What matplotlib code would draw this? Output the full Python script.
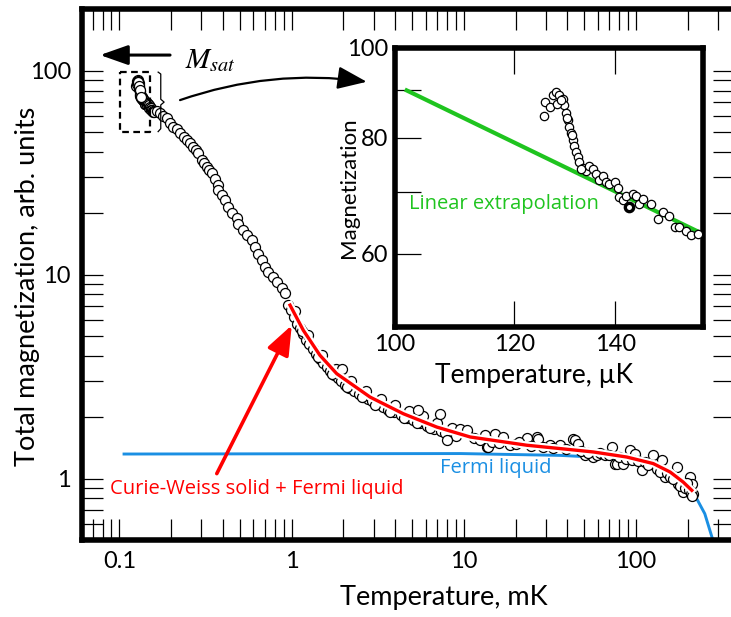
import numpy as np
import matplotlib
matplotlib.use("Agg")
import matplotlib.pyplot as plt
import matplotlib.patheffects as pe
from matplotlib.ticker import NullFormatter, FixedLocator

plt.rcParams['font.family'] = ['Lato', 'DejaVu Sans']
plt.rcParams['mathtext.fontset'] = 'stix'

# --- inset data: temperature in uK, magnetization (arb. units)
t_inset = [125.6, 125.8, 126.6, 127.3, 127.9, 128.5, 129.2, 129.5, 129.9, 130.2,
           130.5, 130.8, 131.2, 131.5, 131.9, 132.2, 132.5, 133.2, 133.9, 134.5,
           135.2, 135.9, 136.6, 137.3, 138.0, 138.7, 139.8, 140.5, 140.8, 141.6,
           142.3, 143.8, 144.4, 145.2, 146.0, 147.8, 149.3, 150.5, 152.0, 153.2,
           154.3, 156.0, 157.2, 158.8, 128.0, 128.8, 130.0, 131.0, 132.8]
m_inset = [84.5, 87.4, 86.3, 88.9, 89.6, 88.9, 88.0, 86.7, 85.0, 83.6,
           82.2, 81.0, 79.6, 78.3, 77.2, 76.2, 75.3, 74.3, 73.7, 74.6,
           74.0, 73.1, 72.0, 72.8, 71.7, 71.4, 71.7, 70.6, 69.0, 68.5,
           69.3, 69.6, 69.3, 67.9, 68.7, 67.9, 65.4, 66.5, 65.9, 64.1,
           64.1, 63.5, 62.9, 63.0, 87.0, 87.8, 84.0, 80.5, 74.0]
t_ring, m_ring = 142.9, 67.3

# green linear extrapolation (uK)
t_lin = [101.8, 158.4]
m_lin = [90.0, 63.5]

# --- main data above the inset range, temperature in mK
t_main = [0.165, 0.172, 0.180, 0.189, 0.197, 0.206, 0.215, 0.225, 0.236, 0.246,
          0.257, 0.269, 0.278, 0.288, 0.301, 0.311, 0.322, 0.333, 0.344, 0.360,
          0.376, 0.376, 0.393, 0.411, 0.430, 0.449, 0.481, 0.491, 0.525, 0.549,
          0.587, 0.614, 0.642, 0.671, 0.702, 0.733, 0.784, 0.821, 0.877, 0.917,
          0.95, 0.99, 1.03, 1.08, 1.12, 1.17, 1.22, 1.27, 1.33, 1.39,
          1.46, 1.53, 1.60, 1.68, 1.76, 1.85, 1.95, 2.05, 2.17, 2.30,
          2.45, 2.60, 2.78, 2.95, 3.15, 3.40, 3.65, 3.95, 4.30, 4.70,
          5.10, 5.60, 6.10, 6.70, 7.40, 8.20, 9.00,
          1.05, 1.25, 1.50, 1.80, 1.96, 2.20, 2.70, 3.30, 4.00, 4.80, 5.80, 7.00, 8.50,
          1.15, 1.42, 1.72, 2.10, 2.55, 3.05, 3.75, 4.50, 5.35, 6.40, 7.80,
          5.45, 7.29, 7.97, 9.52, 10.4, 10.4, 13.3, 13.6, 13.9, 15.2,
          17.0, 18.6, 23.2, 26.5, 27.1, 31.7, 36.2, 43.3, 44.3, 46.3,
          50.6, 56.6, 59.2, 72.4, 75.6, 77.3, 84.5, 92.4, 98.8, 108,
          126, 141, 148, 173, 176, 188, 206, 211, 215,
          11.5, 12.5, 14.5, 16.0, 20.0, 21.0, 24.5, 29.0, 33.0, 39.0,
          48.0, 53.0, 62.0, 66.0, 70.0, 80.0, 88.0, 95.0, 103, 113,
          118, 133, 138, 152, 158, 165, 180, 193, 198, 203, 208, 212]
m_main = [63.5, 61.8, 60.0, 58.6, 55.5, 53.1, 51.8, 49.3, 47.5, 45.7,
          44.0, 42.4, 40.8, 39.3, 36.5, 35.2, 33.8, 32.5, 31.4, 29.6,
          27.5, 26.0, 24.5, 23.2, 21.5, 20.0, 18.9, 17.8, 16.5, 15.6,
          14.8, 13.7, 12.7, 11.8, 10.9, 10.3, 9.75, 9.22, 8.56, 8.09,
          7.1, 6.7, 6.2, 5.75, 5.45, 5.1, 4.8, 4.55, 4.3, 4.07,
          3.86, 3.69, 3.53, 3.38, 3.24, 3.12, 3.0, 2.88, 2.79, 2.69,
          2.6, 2.52, 2.45, 2.39, 2.32, 2.24, 2.18, 2.11, 2.04, 1.98,
          1.93, 1.87, 1.82, 1.76, 1.71, 1.66, 1.62,
          6.6, 5.05, 4.05, 3.45, 3.45, 3.0, 2.7, 2.47, 2.3, 2.14, 2.02, 1.88, 1.78,
          5.3, 3.95, 3.25, 2.82, 2.5, 2.3, 2.12, 1.98, 1.88, 1.78, 1.68,
          2.16, 2.08, 1.54, 1.76, 1.69, 1.73, 1.63, 1.43, 1.43, 1.66,
          1.60, 1.457, 1.59, 1.60, 1.57, 1.457, 1.457, 1.57, 1.54, 1.485,
          1.30, 1.276, 1.30, 1.43, 1.185, 1.185, 1.185, 1.377, 1.327, 1.098,
          1.30, 1.23, 1.018, 1.14, 0.945, 0.86, 1.018, 0.945, 0.844,
          1.58, 1.55, 1.52, 1.50, 1.48, 1.52, 1.44, 1.43, 1.42, 1.40,
          1.37, 1.34, 1.33, 1.30, 1.31, 1.27, 1.25, 1.24, 1.22, 1.20,
          1.16, 1.12, 1.08, 1.06, 1.02, 1.00, 0.92, 0.90, 0.95, 0.88, 0.84, 0.82]

# Curie-Weiss solid + Fermi liquid fit (mK)
t_cw = [0.98, 1.17, 1.46, 1.83, 2.86, 4.46, 6.97, 10.9, 14.9, 23.2,
        36.2, 56.6, 88.4, 126, 158, 188, 211]
m_cw = [7.09, 5.34, 4.03, 3.27, 2.51, 2.08, 1.79, 1.60, 1.54, 1.458,
        1.404, 1.351, 1.276, 1.185, 1.077, 0.962, 0.876]

# Fermi liquid (mK)
t_fl = [0.1065, 9.6, 36.2, 56.0, 88.0, 126, 158, 188, 220, 251, 280]
m_fl = [1.32, 1.327, 1.30, 1.276, 1.23, 1.123, 1.018, 0.927, 0.828, 0.673, 0.498]

W, H = 731, 617
fig = plt.figure(figsize=(W / 100, H / 100), dpi=100)
ax = fig.add_axes([82 / W, 1 - 540 / H, 652 / W, 531.5 / H])
ax.set_xscale('log')
ax.set_yscale('log')
ax.set_xlim(0.0607, 371)
ax.set_ylim(0.5, 202)

for s in ax.spines.values():
    s.set_linewidth(4)
ax.tick_params(which='both', direction='in', length=15, width=0.9,
               top=True, right=True, labelsize=17, pad=8)
ax.set_xticks([0.1, 1, 10, 100])
ax.set_xticklabels(['0.1', '1', '10', '100'])
ax.set_yticks([1, 10, 100])
ax.set_yticklabels(['1', '10', '100'])
ax.xaxis.set_minor_formatter(NullFormatter())
ax.yaxis.set_minor_formatter(NullFormatter())
ax.set_xlabel('Temperature, mK', fontsize=19.5)
ax.xaxis.set_label_coords(0.555, -0.085)
ax.set_ylabel('Total magnetization, arb. units', fontsize=19.5)
ax.yaxis.set_label_coords(-0.064, 0.478)

ax.plot(t_fl, m_fl, color='#1a8fe3', lw=2.1, zorder=2)
ax.plot(np.array(t_inset) / 1000, m_inset, 'o', mfc='white', mec='black',
        ms=7.2, mew=0.9, zorder=3)
ax.plot(t_main, m_main, 'o', mfc='white', mec='black', ms=7.2, mew=0.9, zorder=3)
ax.plot(t_cw, m_cw, color='red', lw=2.4, zorder=4,
        path_effects=[pe.Stroke(linewidth=5.5, foreground='white'), pe.Normal()])

ax.text(0.0883, 0.886, 'Curie-Weiss solid + Fermi liquid', color='red',
        fontsize=14.5, family=['Open Sans', 'DejaVu Sans'], va='center', ha='left')
ax.text(7.28, 1.123, 'Fermi liquid', color='#1a8fe3',
        fontsize=14.5, family=['Open Sans', 'DejaVu Sans'], va='center', ha='left')
ax.annotate('', xy=(1.003, 5.65), xytext=(0.368, 1.058),
            arrowprops=dict(arrowstyle='-|>,head_length=0.9,head_width=0.35',
                            color='red', lw=2.6, mutation_scale=20,
                            shrinkA=0, shrinkB=0), zorder=5)

# M_sat marker
ax.annotate('', xy=(0.0773, 119.4), xytext=(0.197, 119.4),
            arrowprops=dict(arrowstyle='-|>,head_length=0.85,head_width=0.3',
                            color='black', lw=2.2, mutation_scale=20,
                            shrinkA=0, shrinkB=0))
ax.text(0.2407, 111.6, r'$M_{sat}$', fontsize=21, va='center', ha='left')

# dashed box round the inset region, bracket and arrow to inset
ax.plot([0.101, 0.1508, 0.1508, 0.101, 0.101], [98.9, 98.9, 50.2, 50.2, 98.9],
        color='black', lw=1.6, ls=(0, (3, 2)), zorder=5)
ax.plot([0.168, 0.174, 0.174, 0.182, 0.174, 0.174, 0.168],
        [98.5, 96.4, 72.5, 70.2, 68.0, 52.0, 50.3], color='black', lw=0.9, zorder=5)
ax.annotate('', xy=(2.733, 88.3), xytext=(0.2252, 71.8),
            arrowprops=dict(arrowstyle='-|>,head_length=0.9,head_width=0.35',
                            color='black', lw=1.6, mutation_scale=20,
                            connectionstyle='arc3,rad=-0.12',
                            shrinkA=0, shrinkB=0))

# --- inset
ins = fig.add_axes([395 / W, 1 - 327 / H, 308 / W, 279 / H])
ins.set_xscale('log')
ins.set_yscale('log')
ins.set_xlim(100, 160)
ins.set_ylim(50, 100)
for s in ins.spines.values():
    s.set_linewidth(4)
ins.xaxis.set_major_locator(FixedLocator([100, 120, 140]))
ins.xaxis.set_minor_locator(FixedLocator([]))
ins.set_xticklabels(['100', '120', '140'])
ins.yaxis.set_major_locator(FixedLocator([60, 80, 100]))
ins.yaxis.set_minor_locator(FixedLocator([70, 90]))
ins.set_yticklabels(['60', '80', '100'])
ins.xaxis.set_minor_formatter(NullFormatter())
ins.yaxis.set_minor_formatter(NullFormatter())
ins.tick_params(which='both', direction='in', length=19, width=0.9,
                top=True, right=False, labelsize=17, pad=5)
ins.set_xlabel('Temperature, \u00b5K', fontsize=19)
ins.xaxis.set_label_coords(0.45, -0.13)
ins.set_ylabel('Magnetization', fontsize=16)
ins.yaxis.set_label_coords(-0.118, 0.5)

ins.plot(t_lin, m_lin, color='#1fc41f', lw=3, zorder=2)
ins.plot(t_inset, m_inset, 'o', mfc='white', mec='black', ms=6, mew=0.9, zorder=3)
ins.plot([t_ring], [m_ring], 'o', mfc='white', mec='black', ms=6, mew=2.4, zorder=3)
ins.text(102.2, 67.9, 'Linear extrapolation', color='#1fc41f', fontsize=14.5,
         family=['Open Sans', 'DejaVu Sans'], va='center', ha='left')

fig.savefig('out.png', dpi=100)
